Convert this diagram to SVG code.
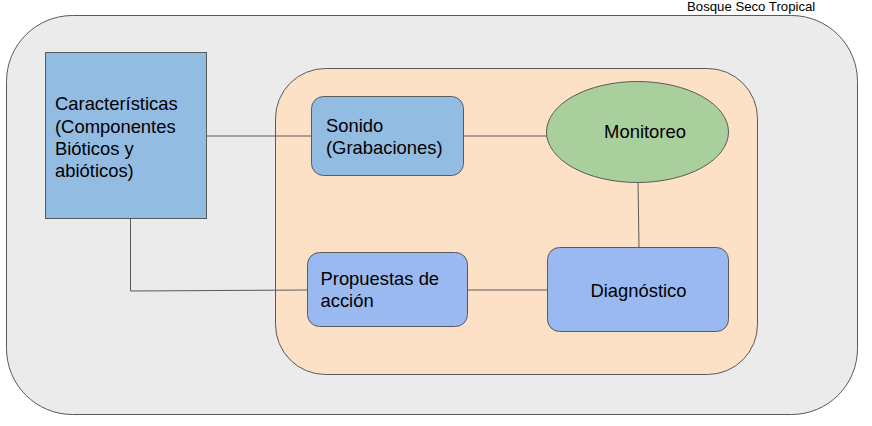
<svg xmlns="http://www.w3.org/2000/svg" width="872" height="426" viewBox="0 0 872 426">
<style>
.t{font-family:"Liberation Sans",Arial,sans-serif;font-size:18.4px;fill:#000}
.s{stroke:#595959;stroke-width:1;}
.c{fill:none;stroke:#595959;stroke-width:1}
</style>
<rect width="872" height="426" fill="#ffffff"/>
<g id="bosque">
<rect class="s" x="6.5" y="15.5" width="851" height="399" rx="66" ry="66" fill="#ebebeb"/>
<text x="687" y="10.5" style="font-family:'Liberation Sans',Arial,sans-serif;font-size:13.2px;fill:#000">Bosque Seco Tropical</text>
</g>
<g id="zona">
<rect class="s" x="275.5" y="68.5" width="482" height="306" rx="50" ry="50" fill="#fce1c7"/>
</g>
<g id="connectors">
<line class="c" x1="207" y1="136" x2="311" y2="136"/>
<line class="c" x1="464" y1="136" x2="547" y2="136"/>
<line class="c" x1="638" y1="182" x2="639" y2="247"/>
<line class="c" x1="468" y1="290" x2="548" y2="290"/>
<polyline class="c" points="130.5,219 130.5,291 307,290"/>
</g>
<g id="caracteristicas">
<rect class="s" x="45.5" y="52.5" width="161" height="166" fill="#93bce3"/>
<text class="t" x="55" y="110">Características</text>
<text class="t" x="55" y="133">(Componentes</text>
<text class="t" x="55" y="155">Bióticos y</text>
<text class="t" x="55" y="177">abióticos)</text>
</g>
<g id="sonido">
<rect class="s" x="311.5" y="96.5" width="152" height="79" rx="12" ry="12" fill="#93bce3"/>
<text class="t" x="326" y="132">Sonido</text>
<text class="t" x="326" y="154">(Grabaciones)</text>
</g>
<g id="monitoreo">
<ellipse class="s" cx="637.5" cy="132" rx="91" ry="50.5" fill="#a9cf9d"/>
<text class="t" x="645" y="138" text-anchor="middle">Monitoreo</text>
</g>
<g id="diagnostico">
<rect class="s" x="547.5" y="247.5" width="181" height="84" rx="12" ry="12" fill="#9ab9f0"/>
<text class="t" x="638.5" y="297" text-anchor="middle">Diagnóstico</text>
</g>
<g id="propuestas">
<rect class="s" x="307.5" y="252.5" width="160" height="74" rx="12" ry="12" fill="#9ab9f0"/>
<text class="t" x="320.5" y="285">Propuestas de</text>
<text class="t" x="320.5" y="307">acción</text>
</g>
</svg>
